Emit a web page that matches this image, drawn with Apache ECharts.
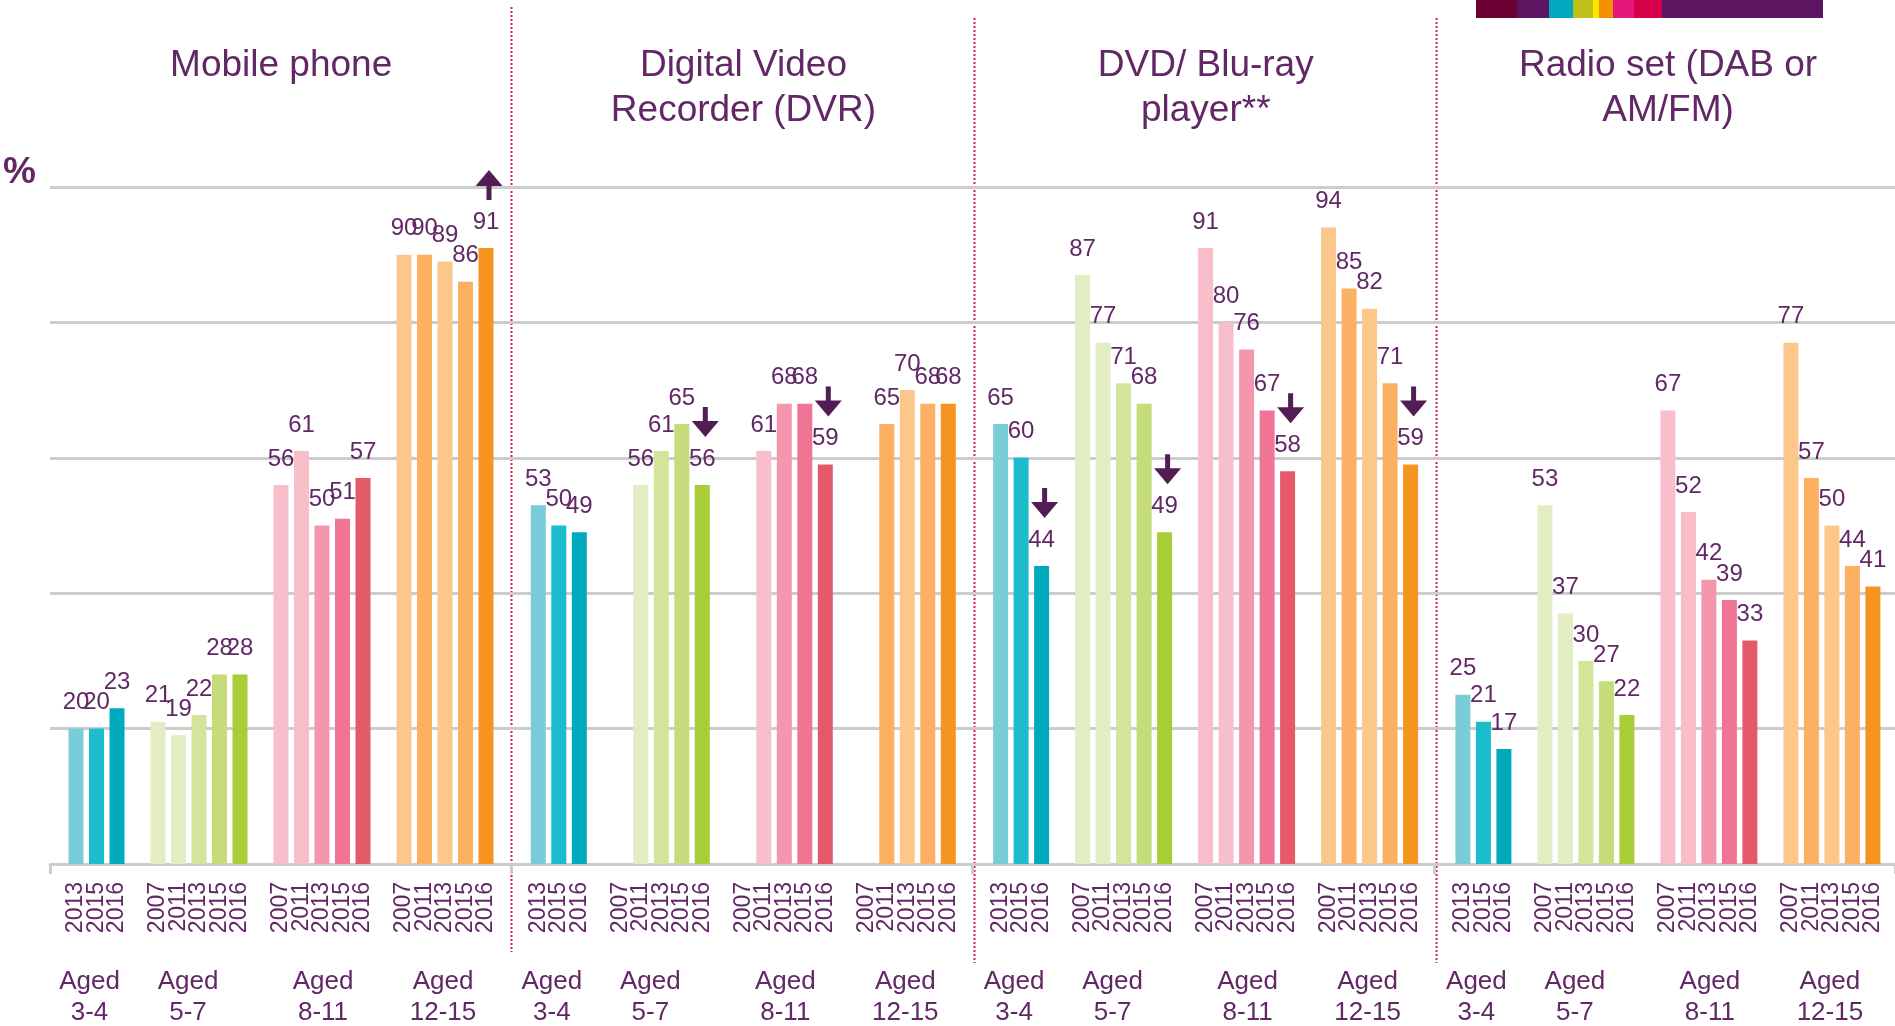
<!DOCTYPE html>
<html><head><meta charset="utf-8">
<script src="https://cdn.jsdelivr.net/npm/echarts@6/dist/echarts.min.js"></script>
<style>html,body{margin:0;padding:0;background:#fff}#c{width:1895px;height:1026px}</style>
</head><body><div id="c"></div>
<script>
// ---------- categories / labels ----------
const panelTitles = ['Mobile phone', 'Digital Video\nRecorder (DVR)', 'DVD/ Blu-ray\nplayer**', 'Radio set (DAB or\nAM/FM)'];
const ageGroups = ['Aged\n3-4', 'Aged\n5-7', 'Aged\n8-11', 'Aged\n12-15'];
const yearsAged34 = ['2013', '2015', '2016'];
const yearsOlder = ['2007', '2011', '2013', '2015', '2016'];

// ---------- values (%) ----------
const mobile34 = [20, 20, 23];
const mobile57 = [21, 19, 22, 28, 28];
const mobile811 = [56, 61, 50, 51, 57];
const mobile1215 = [90, 90, 89, 86, 91];
const dvr34 = [53, 50, 49];
const dvr57 = [null, 56, 61, 65, 56];
const dvr811 = [null, 61, 68, 68, 59];
const dvr1215 = [null, 65, 70, 68, 68];
const dvd34 = [65, 60, 44];
const dvd57 = [87, 77, 71, 68, 49];
const dvd811 = [91, 80, 76, 67, 58];
const dvd1215 = [94, 85, 82, 71, 59];
const radio34 = [25, 21, 17];
const radio57 = [53, 37, 30, 27, 22];
const radio811 = [67, 52, 42, 39, 33];
const radio1215 = [77, 57, 50, 44, 41];

// significant change vs previous year, shown on the 2016 bar: [panel, age group, direction]
const changeArrows = [[0, 3, 'up'], [1, 1, 'down'], [1, 2, 'down'], [2, 0, 'down'], [2, 1, 'down'], [2, 2, 'down'], [2, 3, 'down']];

// ---------- styles ----------
const TEXT = '#622866';
const ARROW = '#521c55';
const FONT = '"Liberation Sans", Arial, sans-serif';
const GRIDC = '#cccccc';
const barColors = [
  {'2013': '#79cdd9', '2015': '#1bbccc', '2016': '#00aabd'},
  {'2007': '#e2edc4', '2011': '#e2edc4', '2013': '#d3e59b', '2015': '#c4dc79', '2016': '#a8cd37'},
  {'2007': '#f8bfca', '2011': '#f8bfca', '2013': '#f597ac', '2015': '#f07493', '2016': '#e55a6b'},
  {'2007': '#fcc78a', '2011': '#fbb062', '2013': '#fcc78a', '2015': '#fbb062', '2016': '#f5951f'}
];
const ageShift = [-7, -11, 1, -2];

// ---------- layout ----------
const PLOT_LEFT = 50, PLOT_TOP = 187, PLOT_BOTTOM = 162;
const PANEL_W = 462.3, SLOT = 20.5, INNER_OFF = 15.75;

const panelValues = [
  [mobile34, mobile57, mobile811, mobile1215],
  [dvr34, dvr57, dvr811, dvr1215],
  [dvd34, dvd57, dvd811, dvd1215],
  [radio34, radio57, radio811, radio1215]
];
const groupYears = [yearsAged34, yearsOlder, yearsOlder, yearsOlder];

// build category list (blank slot between age groups)
const categories = [], middleOf = {}, lastOf = [];
groupYears.forEach((ys, g) => {
  if (g > 0) categories.push('');
  const start = categories.length;
  ys.forEach(y => categories.push(y));
  middleOf[start + Math.floor(ys.length / 2)] = g;
  lastOf.push(categories.length - 1);
});
const ageCats = categories.map((c, i) => middleOf[i] != null ? ageGroups[middleOf[i]] : '');

const ageRich = {};
ageShift.forEach((s, g) => {
  ageRich['g' + g] = {fontSize: 26, lineHeight: 31, color: TEXT, fontFamily: FONT,
    padding: s < 0 ? [0, -2 * s, 0, 0] : [0, 0, 0, 2 * s]};
});

const downPath = 'path://M11,0 L16,0 L16,14 L27,14 L13.5,30 L0,14 L11,14 Z';
const upPath = 'path://M13.5,0 L27,16 L16,16 L16,30 L11,30 L11,16 L0,16 Z';

const grids = [{left: PLOT_LEFT, width: PANEL_W * 4, top: PLOT_TOP, bottom: PLOT_BOTTOM}];
const xAxes = [{
  type: 'value', gridIndex: 0, min: 0, max: 4, interval: 1,
  axisLine: {show: true, lineStyle: {color: GRIDC, width: 3}},
  axisTick: {show: true, length: 10, lineStyle: {color: GRIDC, width: 3}},
  axisLabel: {show: false}, splitLine: {show: false}
}];
const yAxes = [{
  type: 'value', gridIndex: 0, min: 0, max: 100, interval: 20,
  axisLine: {show: false}, axisTick: {show: false}, axisLabel: {show: false},
  splitLine: {show: true, lineStyle: {color: GRIDC, width: 3}}
}];
const series = [];

panelValues.forEach((groups, p) => {
  const gi = p + 1;
  grids.push({left: PLOT_LEFT + INNER_OFF + p * PANEL_W, width: categories.length * SLOT, top: PLOT_TOP, bottom: PLOT_BOTTOM});
  xAxes.push({
    type: 'category', gridIndex: gi, data: categories,
    axisLine: {show: false}, axisTick: {show: false}, splitLine: {show: false},
    axisLabel: {interval: 0, rotate: 90, margin: 18, fontSize: 23, color: TEXT, fontFamily: FONT}
  });
  xAxes.push({
    type: 'category', gridIndex: gi, position: 'bottom', data: ageCats,
    axisLine: {show: false}, axisTick: {show: false}, splitLine: {show: false},
    axisLabel: {interval: 0, margin: 102, rich: ageRich,
      formatter: (v, i) => middleOf[i] == null ? '' : v.split('\n').map(l => '{g' + middleOf[i] + '|' + l + '}').join('\n')}
  });
  yAxes.push({type: 'value', gridIndex: gi, min: 0, max: 100, show: false, splitLine: {show: false}});

  const data = [];
  groupYears.forEach((ys, g) => {
    if (g > 0) data.push(null);
    ys.forEach((y, k) => {
      const v = groups[g][k];
      data.push(v == null ? null : {value: v, itemStyle: {color: barColors[g][y]}});
    });
  });
  const mp = changeArrows.filter(a => a[0] === p).map(a => {
    const idx = lastOf[a[1]];
    const v = groups[a[1]][groups[a[1]].length - 1];
    return {coord: [idx, v], symbol: a[2] === 'up' ? upPath : downPath,
      symbolSize: [27, 30], symbolOffset: [3, -63], itemStyle: {color: ARROW}, label: {show: false}};
  });
  series.push({
    type: 'bar', xAxisIndex: xAxes.length - 2, yAxisIndex: gi, data: data, barWidth: 15,
    label: {show: true, position: 'top', distance: 14, fontSize: 24, color: TEXT, fontFamily: FONT},
    markPoint: {data: mp, silent: true, animation: false},
    silent: true
  });
});

const titles = panelTitles.map((t, p) => ({
  text: t, left: PLOT_LEFT + PANEL_W * (p + 0.5), top: 43, textAlign: 'center', padding: 0,
  textStyle: {fontSize: 37, fontWeight: 'normal', color: TEXT, fontFamily: FONT, lineHeight: 45}
}));

// decorative banner + separators
const banner = [
  [1476, 1517, '#6c0033'], [1517, 1549, '#5c1560'], [1549, 1573, '#00a8c2'], [1573, 1593, '#c0c01a'],
  [1593, 1599, '#ffe800'], [1599, 1613, '#f29100'], [1613, 1634, '#e6177a'], [1634, 1662, '#d8004b'], [1662, 1823, '#5c1560']
];
const graphics = banner.map(b => ({type: 'rect', shape: {x: b[0], y: 0, width: b[1] - b[0], height: 18}, style: {fill: b[2]}, silent: true}));
[1, 2, 3].forEach(k => {
  const x = Math.round(PLOT_LEFT + PANEL_W * k) - 0.5;
  graphics.push({type: 'line', shape: {x1: x, y1: k === 1 ? 7 : 18, x2: x, y2: k === 1 ? 952 : 963},
    style: {stroke: '#d81b50', lineWidth: 2, lineDash: [2, 2]}, silent: true});
});
graphics.push({type: 'text', left: 3, top: 154, style: {text: '%', font: 'bold 37px ' + FONT, fill: TEXT}, silent: true});

const chart = echarts.init(document.getElementById('c'));
chart.setOption({
  animation: false,
  backgroundColor: '#ffffff',
  title: titles,
  grid: grids,
  xAxis: xAxes,
  yAxis: yAxes,
  series: series,
  graphic: graphics
});
</script>
</body></html>
